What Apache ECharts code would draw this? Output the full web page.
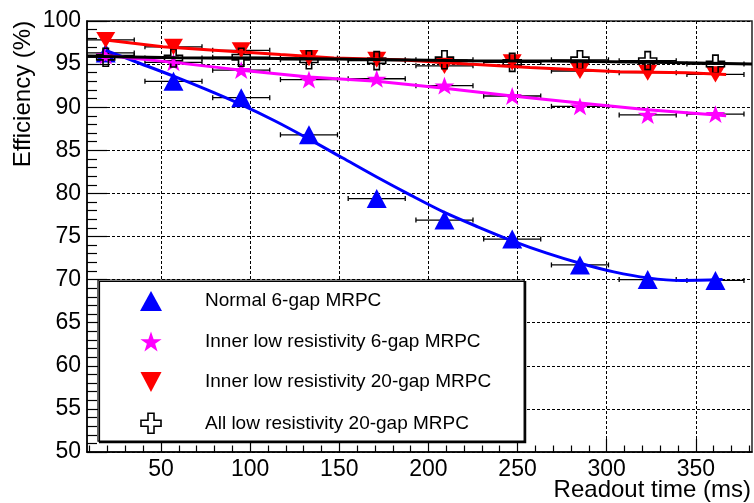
<!DOCTYPE html>
<html>
<head>
<meta charset="utf-8">
<script src="https://cdn.jsdelivr.net/npm/echarts@6/dist/echarts.min.js"></script>
<style>
  html, body { margin: 0; padding: 0; background: #fff; }
  #chart { width: 754px; height: 503px; }
</style>
</head>
<body>
<div id="chart"></div>
<script>
// Readout time of each measurement (ms) and its half bin width
const readoutTimes = [19, 57, 95, 133, 171, 209, 247, 285, 323, 361];
const readoutHalfWidths = [16, 16, 16, 16, 16, 16, 16, 16, 16, 16];

// Measured efficiency (%) per chamber
const normal6Gap = [96.3, 93.0, 91.1, 86.8, 79.4, 76.9, 74.7, 71.7, 70.0, 69.9];
const innerLow6Gap = [96.0, 95.2, 94.3, 93.2, 93.3, 92.5, 91.3, 90.1, 89.1, 89.2];
const innerLow20Gap = [97.8, 97.0, 96.6, 95.7, 95.5, 94.8, 95.2, 94.2, 94.0, 93.8];
const allLow20Gap = [95.8, 95.7, 95.8, 95.5, 95.4, 95.5, 95.2, 95.5, 95.4, 95.0];

// Fitted trend curves (time in ms, efficiency in %)
const normal6FitX = [19, 38, 57, 76, 95, 114, 133, 152, 171, 190, 209, 228, 247, 266, 285, 304, 323, 342, 365];
const normal6FitY = [96.6, 95.1, 93.6, 92.0, 90.3, 88.4, 86.3, 84.1, 81.9, 79.8, 77.8, 76.1, 74.5, 73.1, 71.9, 70.9, 70.2, 69.9, 70.0];
const innerLow6FitX = [19, 57, 95, 133, 171, 209, 247, 285, 323, 367];
const innerLow6FitY = [96.0, 95.2, 94.3, 93.5, 93.0, 92.2, 91.3, 90.5, 89.7, 89.0];
const innerLow20FitX = [19, 51, 80, 117, 147, 184, 222, 257, 307, 345, 367];
const innerLow20FitY = [97.8, 97.0, 96.6, 96.1, 95.7, 95.5, 95.0, 94.6, 94.1, 94.0, 93.8];
const allLow20FitX = [8.5, 60, 117, 147, 222, 270, 335, 381.5];
const allLow20FitY = [95.9, 95.75, 95.65, 95.6, 95.4, 95.35, 95.2, 95.0];

// Axis ticks
const xMajorTicks = [50, 100, 150, 200, 250, 300, 350];
const xMinorTicks = [10, 20, 30, 40, 60, 70, 80, 90, 110, 120, 130, 140, 160, 170, 180, 190,
  210, 220, 230, 240, 260, 270, 280, 290, 310, 320, 330, 340, 360, 370, 380];

const FONT = '"Liberation Sans", Arial, Helvetica, sans-serif';
const X_MIN = 8.5, X_MAX = 381.5;

const STAR = 'path://M50,2 L61.8,36.2 L97.6,36.2 L68.6,57.4 L79.4,91.6 L50,70.5 L20.6,91.6 L31.4,57.4 L2.4,36.2 L38.2,36.2 Z';
const CROSS = 'path://M35,0 L65,0 L65,35 L100,35 L100,65 L65,65 L65,100 L35,100 L35,65 L0,65 L0,35 L35,35 Z';
const DOWN_TRIANGLE = 'path://M0,0 L100,0 L50,95 Z';

const chambers = [
  { name: 'Normal 6-gap MRPC', values: normal6Gap, fitX: normal6FitX, fitY: normal6FitY,
    symbol: 'triangle', size: [20, 19], rotate: 0, color: '#0000ff', smooth: 0.3,
    itemStyle: { color: '#0000ff', opacity: 1 }, icon: 'triangle' },
  { name: 'Inner low resistivity 6-gap MRPC', values: innerLow6Gap, fitX: innerLow6FitX, fitY: innerLow6FitY,
    symbol: STAR, size: [20, 19], rotate: 0, color: '#ff00ff', smooth: 0,
    itemStyle: { color: '#ff00ff', opacity: 1 }, icon: STAR },
  { name: 'Inner low resistivity 20-gap MRPC', values: innerLow20Gap, fitX: innerLow20FitX, fitY: innerLow20FitY,
    symbol: DOWN_TRIANGLE, size: [19, 17], rotate: 0, color: '#ff0000', smooth: 0,
    itemStyle: { color: '#ff0000', opacity: 1 }, icon: DOWN_TRIANGLE },
  { name: 'All low resistivity 20-gap MRPC', values: allLow20Gap, fitX: allLow20FitX, fitY: allLow20FitY,
    symbol: CROSS, size: [18, 18], rotate: 0, color: '#000000', smooth: 0,
    itemStyle: { color: 'rgba(255,255,255,0)', borderColor: '#000', borderWidth: 1.6, opacity: 1 }, icon: CROSS }
];

// Horizontal error bar with small end caps
function errorBarItem(params, api) {
  const y = api.value(1);
  const lo = api.coord([api.value(2), y]);
  const hi = api.coord([api.value(3), y]);
  const cs = params.coordSys;
  const x1 = Math.max(lo[0], cs.x), x2 = Math.min(hi[0], cs.x + cs.width);
  const cap = 2.5;
  const style = { stroke: '#000', lineWidth: 1.3 };
  const children = [{ type: 'line', shape: { x1: x1, y1: lo[1], x2: x2, y2: hi[1] }, style: style }];
  if (lo[0] >= cs.x) children.push({ type: 'line', shape: { x1: lo[0], y1: lo[1] - cap, x2: lo[0], y2: lo[1] + cap }, style: style });
  if (hi[0] <= cs.x + cs.width) children.push({ type: 'line', shape: { x1: hi[0], y1: hi[1] - cap, x2: hi[0], y2: hi[1] + cap }, style: style });
  return { type: 'group', children: children };
}

const series = [];
chambers.forEach(function (c) {
  series.push({
    type: 'custom', name: c.name + ' errors', z: 2, silent: true,
    renderItem: errorBarItem,
    encode: { x: [0, 2, 3], y: 1 },
    data: readoutTimes.map(function (t, i) {
      return [t, c.values[i], t - readoutHalfWidths[i], t + readoutHalfWidths[i]];
    })
  });
});
chambers.forEach(function (c) {
  series.push({
    type: 'scatter', name: c.name, z: 3,
    symbol: c.symbol, symbolSize: c.size, symbolRotate: c.rotate, symbolKeepAspect: true,
    itemStyle: c.itemStyle,
    data: readoutTimes.map(function (t, i) { return [t, c.values[i]]; })
  });
});
chambers.forEach(function (c, k) {
  series.push({
    type: 'line', name: c.name + ' fit', z: 4 + k,
    showSymbol: false, symbol: 'none', smooth: c.smooth,
    lineStyle: { color: c.color, width: 3 },
    data: c.fitX.map(function (t, i) { return [t, c.fitY[i]]; })
  });
});

const tickLine = { color: '#000', width: 1.2 };
const gridLine = { color: '#000', width: 1, type: [3, 2] };

const option = {
  animation: false,
  backgroundColor: '#fff',
  grid: {
    left: 87, top: 21, right: 2, bottom: 51,
    containLabel: false, outerBoundsMode: 'none',
    show: true, borderColor: '#222', borderWidth: 1.5, backgroundColor: 'transparent'
  },
  xAxis: [
    {
      type: 'value', min: X_MIN, max: X_MAX, position: 'bottom',
      axisLine: { show: true, onZero: false, lineStyle: { color: '#000', width: 1.5 } },
      axisTick: { show: true, inside: true, length: 13, customValues: xMajorTicks, lineStyle: tickLine },
      axisLabel: { customValues: xMajorTicks, fontSize: 23, fontFamily: FONT, color: '#000', margin: 6 },
      splitLine: { show: true, lineStyle: gridLine },
      minorTick: { show: false }
    },
    {
      type: 'value', min: X_MIN, max: X_MAX, position: 'bottom',
      axisLine: { show: false },
      axisTick: { show: true, inside: true, length: 6.5, customValues: xMinorTicks, lineStyle: tickLine },
      axisLabel: { show: false },
      splitLine: { show: false }
    }
  ],
  yAxis: {
    type: 'value', min: 50, max: 100, interval: 5,
    axisLine: { show: true, onZero: false, lineStyle: { color: '#000', width: 1.5 } },
    axisTick: { show: true, inside: true, length: 20, lineStyle: tickLine },
    minorTick: { show: true, splitNumber: 5, length: 10, lineStyle: tickLine },
    axisLabel: { fontSize: 23, fontFamily: FONT, color: '#000', margin: 6 },
    splitLine: { show: true, lineStyle: gridLine }
  },
  legend: {
    orient: 'vertical', left: 98, top: 280,
    padding: [11, 33, 7, 42],
    itemGap: 20.5, itemWidth: 22, itemHeight: 20,
    backgroundColor: '#fff', borderColor: '#000', borderWidth: 1.2,
    shadowColor: '#000', shadowOffsetX: 1.5, shadowOffsetY: 1.5, shadowBlur: 0.01,
    selectedMode: false,
    textStyle: { fontSize: 19, fontFamily: FONT, color: '#000', padding: [0, 0, 0, 38] },
    data: [
      { name: chambers[0].name, icon: chambers[0].icon, itemStyle: { color: '#0000ff', borderWidth: 0, opacity: 1 } },
      { name: chambers[1].name, icon: chambers[1].icon, itemStyle: { color: '#ff00ff', borderWidth: 0, opacity: 1 } },
      { name: chambers[2].name, icon: chambers[2].icon, itemStyle: { color: '#ff0000', borderWidth: 0, opacity: 1 } },
      { name: chambers[3].name, icon: chambers[3].icon, itemStyle: { color: '#fff', borderColor: '#000', borderWidth: 1.6, opacity: 1 } }
    ]
  },
  graphic: [
    {
      type: 'text', x: 23, y: 94, rotation: Math.PI / 2,
      style: { text: 'Efficiency (%)', fontSize: 24, fontFamily: FONT, fill: '#000', align: 'center', verticalAlign: 'middle' }
    },
    {
      type: 'text', x: 751, y: 490,
      style: { text: 'Readout time (ms)', fontSize: 24, fontFamily: FONT, fill: '#000', align: 'right', verticalAlign: 'middle' }
    }
  ],
  series: series
};

const chart = echarts.init(document.getElementById('chart'), null, { renderer: 'canvas' });
chart.setOption(option);
</script>
</body>
</html>
